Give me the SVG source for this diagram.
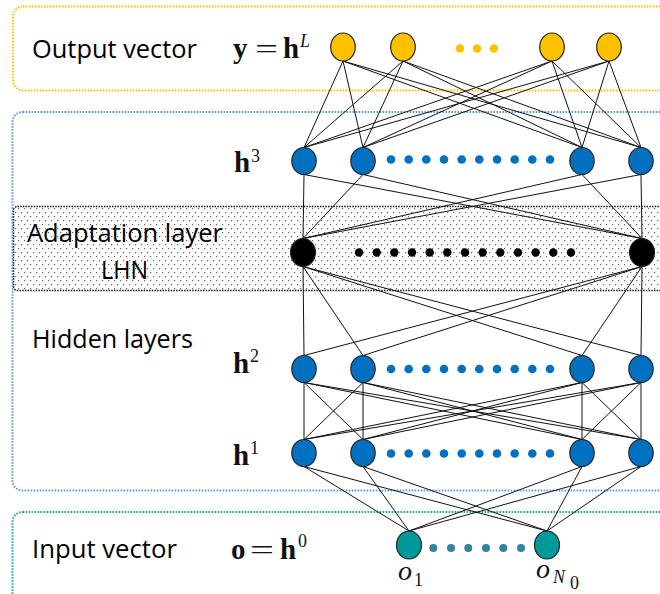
<svg xmlns="http://www.w3.org/2000/svg" width="660" height="594" viewBox="0 0 660 594">
<defs>
<pattern id="dots" width="6" height="8" patternUnits="userSpaceOnUse"><rect width="6" height="8" fill="#fff"/><rect x="0" y="0" width="1.2" height="1.2" fill="#666"/><rect x="3" y="4" width="1.2" height="1.2" fill="#666"/></pattern>
<style>
.box{fill:none;stroke-width:2;stroke-dasharray:1.6 1.4}
.lbl{font-family:"Open Sans","Liberation Sans",sans-serif;font-size:25px;fill:#000}
.mb{font-family:"Liberation Serif",serif;font-weight:bold;font-size:29px;fill:#111}
.mr{font-family:"Liberation Serif",serif;font-size:27px;fill:#111}
.mi{font-family:"Liberation Serif",serif;font-style:italic;font-size:28px;fill:#111}
.sup{font-family:"Liberation Serif",serif;font-size:18px;fill:#111}
.supi{font-family:"Liberation Serif",serif;font-style:italic;font-size:18px;fill:#111}
.node{stroke:#222;stroke-width:1.2}
.y{fill:#FFC000}.b{fill:#0070C0}.k{fill:#000}.t{fill:#009999}
.conn line{stroke:#111;stroke-width:1}
</style>
</defs>
<rect width="660" height="594" fill="#fff"/>
<g id="boxes">
<rect class="box" x="13" y="6.5" width="700" height="84" rx="10" stroke="#FFC000"/>
<rect class="box" x="12.5" y="112" width="700" height="378.5" rx="10" stroke="#5B9BD5"/>
<rect class="box" x="12.5" y="512" width="700" height="110" rx="10" stroke="#1FA3A3"/>
<rect x="13.5" y="206.5" width="700" height="84" rx="4" fill="url(#dots)" stroke="#111" stroke-width="1.5" stroke-dasharray="1.5 1.2"/>
</g>
<g id="labels">
<text class="lbl" x="32" y="58" textLength="165" lengthAdjust="spacingAndGlyphs">Output vector</text>
<text class="lbl" x="27" y="242" textLength="196" lengthAdjust="spacingAndGlyphs">Adaptation layer</text>
<text class="lbl" x="101" y="279" textLength="47" lengthAdjust="spacingAndGlyphs">LHN</text>
<text class="lbl" x="32" y="348" textLength="161" lengthAdjust="spacingAndGlyphs">Hidden layers</text>
<text class="lbl" x="32" y="558" textLength="145" lengthAdjust="spacingAndGlyphs">Input vector</text>
<text class="mb" x="233" y="58">y</text>
<text class="mr" x="255" y="58" textLength="23" lengthAdjust="spacingAndGlyphs">=</text>
<text class="mb" x="283" y="58">h</text>
<text class="supi" x="300" y="47">L</text>
<text class="mb" x="234" y="172">h</text>
<text class="sup" x="251" y="162">3</text>
<text class="mb" x="233" y="373">h</text>
<text class="sup" x="250" y="362">2</text>
<text class="mb" x="233" y="465">h</text>
<text class="sup" x="250" y="454">1</text>
<text class="mb" x="231" y="559">o</text>
<text class="mr" x="250" y="559" textLength="24" lengthAdjust="spacingAndGlyphs">=</text>
<text class="mb" x="280" y="559">h</text>
<text class="sup" x="298" y="547">0</text>
<text class="mi" x="398" y="580">o</text>
<text class="sup" x="414" y="586" font-size="19">1</text>
<text class="mi" x="536" y="578">o</text>
<text class="supi" x="553" y="583">N</text>
<text class="sup" x="570" y="589" font-size="14">0</text>
</g>
<g id="connectors" class="conn">
<line x1="343" y1="61" x2="304" y2="147.5"/><line x1="343" y1="61" x2="363" y2="147.5"/><line x1="343" y1="61" x2="582" y2="147.5"/><line x1="343" y1="61" x2="641" y2="147.5"/>
<line x1="403" y1="61" x2="304" y2="147.5"/><line x1="403" y1="61" x2="363" y2="147.5"/><line x1="403" y1="61" x2="582" y2="147.5"/><line x1="403" y1="61" x2="641" y2="147.5"/>
<line x1="552" y1="61" x2="304" y2="147.5"/><line x1="552" y1="61" x2="363" y2="147.5"/><line x1="552" y1="61" x2="582" y2="147.5"/><line x1="552" y1="61" x2="641" y2="147.5"/>
<line x1="609" y1="61" x2="304" y2="147.5"/><line x1="609" y1="61" x2="363" y2="147.5"/><line x1="609" y1="61" x2="582" y2="147.5"/><line x1="609" y1="61" x2="641" y2="147.5"/>
<line x1="304" y1="174.5" x2="303" y2="238.5"/><line x1="304" y1="174.5" x2="642" y2="238.5"/>
<line x1="363" y1="174.5" x2="303" y2="238.5"/><line x1="363" y1="174.5" x2="642" y2="238.5"/>
<line x1="582" y1="174.5" x2="303" y2="238.5"/><line x1="582" y1="174.5" x2="642" y2="238.5"/>
<line x1="641" y1="174.5" x2="303" y2="238.5"/><line x1="641" y1="174.5" x2="642" y2="238.5"/>
<line x1="303" y1="266.5" x2="304" y2="355.5"/><line x1="303" y1="266.5" x2="363" y2="355.5"/><line x1="303" y1="266.5" x2="582" y2="355.5"/><line x1="303" y1="266.5" x2="641" y2="355.5"/>
<line x1="642" y1="266.5" x2="304" y2="355.5"/><line x1="642" y1="266.5" x2="363" y2="355.5"/><line x1="642" y1="266.5" x2="582" y2="355.5"/><line x1="642" y1="266.5" x2="641" y2="355.5"/>
<line x1="304" y1="382.5" x2="304" y2="439.5"/><line x1="304" y1="382.5" x2="363" y2="439.5"/><line x1="304" y1="382.5" x2="582" y2="439.5"/><line x1="304" y1="382.5" x2="641" y2="439.5"/>
<line x1="363" y1="382.5" x2="304" y2="439.5"/><line x1="363" y1="382.5" x2="363" y2="439.5"/><line x1="363" y1="382.5" x2="582" y2="439.5"/><line x1="363" y1="382.5" x2="641" y2="439.5"/>
<line x1="582" y1="382.5" x2="304" y2="439.5"/><line x1="582" y1="382.5" x2="363" y2="439.5"/><line x1="582" y1="382.5" x2="582" y2="439.5"/><line x1="582" y1="382.5" x2="641" y2="439.5"/>
<line x1="641" y1="382.5" x2="304" y2="439.5"/><line x1="641" y1="382.5" x2="363" y2="439.5"/><line x1="641" y1="382.5" x2="582" y2="439.5"/><line x1="641" y1="382.5" x2="641" y2="439.5"/>
<line x1="304" y1="466.5" x2="409" y2="531"/><line x1="304" y1="466.5" x2="547" y2="531"/>
<line x1="363" y1="466.5" x2="409" y2="531"/><line x1="363" y1="466.5" x2="547" y2="531"/>
<line x1="582" y1="466.5" x2="409" y2="531"/><line x1="582" y1="466.5" x2="547" y2="531"/>
<line x1="641" y1="466.5" x2="409" y2="531"/><line x1="641" y1="466.5" x2="547" y2="531"/>
</g>
<g id="output-layer">
<ellipse class="node y" cx="343" cy="47" rx="12.3" ry="14"/>
<ellipse class="node y" cx="403" cy="47" rx="12.3" ry="14"/>
<ellipse class="node y" cx="552" cy="47" rx="12.3" ry="14"/>
<ellipse class="node y" cx="609" cy="47" rx="12.3" ry="14"/>
<g fill="#FFC000"><circle cx="460" cy="48.5" r="4.2"/><circle cx="477" cy="48.5" r="4.2"/><circle cx="494" cy="48.5" r="4.2"/></g>
</g>
<g id="h3-layer">
<ellipse class="node b" cx="304" cy="161" rx="12.2" ry="13.5"/>
<ellipse class="node b" cx="363" cy="161" rx="12.2" ry="13.5"/>
<ellipse class="node b" cx="582" cy="161" rx="12.2" ry="13.5"/>
<ellipse class="node b" cx="641" cy="161" rx="12.2" ry="13.5"/>
<g fill="#0070C0"><circle cx="391" cy="159.5" r="4.3"/><circle cx="408.7" cy="159.5" r="4.3"/><circle cx="426.3" cy="159.5" r="4.3"/><circle cx="444" cy="159.5" r="4.3"/><circle cx="461.7" cy="159.5" r="4.3"/><circle cx="479.3" cy="159.5" r="4.3"/><circle cx="497" cy="159.5" r="4.3"/><circle cx="514.7" cy="159.5" r="4.3"/><circle cx="532.3" cy="159.5" r="4.3"/><circle cx="550" cy="159.5" r="4.3"/></g>
</g>
<g id="adaptation-layer">
<ellipse class="node k" cx="303" cy="252.5" rx="12.5" ry="14"/>
<ellipse class="node k" cx="642" cy="252.5" rx="12.5" ry="14"/>
<g fill="#000"><circle cx="359" cy="252.5" r="4.2"/><circle cx="376.7" cy="252.5" r="4.2"/><circle cx="394.3" cy="252.5" r="4.2"/><circle cx="412" cy="252.5" r="4.2"/><circle cx="429.7" cy="252.5" r="4.2"/><circle cx="447.3" cy="252.5" r="4.2"/><circle cx="465" cy="252.5" r="4.2"/><circle cx="482.7" cy="252.5" r="4.2"/><circle cx="500.3" cy="252.5" r="4.2"/><circle cx="518" cy="252.5" r="4.2"/><circle cx="535.7" cy="252.5" r="4.2"/><circle cx="553.3" cy="252.5" r="4.2"/><circle cx="571" cy="252.5" r="4.2"/></g>
</g>
<g id="h2-layer">
<ellipse class="node b" cx="304" cy="369" rx="12.2" ry="13.5"/>
<ellipse class="node b" cx="363" cy="369" rx="12.2" ry="13.5"/>
<ellipse class="node b" cx="582" cy="369" rx="12.2" ry="13.5"/>
<ellipse class="node b" cx="641" cy="369" rx="12.2" ry="13.5"/>
<g fill="#0070C0"><circle cx="391" cy="369" r="4.3"/><circle cx="408.7" cy="369" r="4.3"/><circle cx="426.3" cy="369" r="4.3"/><circle cx="444" cy="369" r="4.3"/><circle cx="461.7" cy="369" r="4.3"/><circle cx="479.3" cy="369" r="4.3"/><circle cx="497" cy="369" r="4.3"/><circle cx="514.7" cy="369" r="4.3"/><circle cx="532.3" cy="369" r="4.3"/><circle cx="550" cy="369" r="4.3"/></g>
</g>
<g id="h1-layer">
<ellipse class="node b" cx="304" cy="453" rx="12.2" ry="13.5"/>
<ellipse class="node b" cx="363" cy="453" rx="12.2" ry="13.5"/>
<ellipse class="node b" cx="582" cy="453" rx="12.2" ry="13.5"/>
<ellipse class="node b" cx="641" cy="453" rx="12.2" ry="13.5"/>
<g fill="#0070C0"><circle cx="391" cy="453.5" r="4.3"/><circle cx="408.7" cy="453.5" r="4.3"/><circle cx="426.3" cy="453.5" r="4.3"/><circle cx="444" cy="453.5" r="4.3"/><circle cx="461.7" cy="453.5" r="4.3"/><circle cx="479.3" cy="453.5" r="4.3"/><circle cx="497" cy="453.5" r="4.3"/><circle cx="514.7" cy="453.5" r="4.3"/><circle cx="532.3" cy="453.5" r="4.3"/><circle cx="550" cy="453.5" r="4.3"/></g>
</g>
<g id="input-layer">
<ellipse class="node t" cx="409" cy="545" rx="12.5" ry="14"/>
<ellipse class="node t" cx="547" cy="545" rx="12.5" ry="14"/>
<g fill="#31849B"><circle cx="433.3" cy="548" r="4"/><circle cx="451" cy="548" r="4"/><circle cx="468.3" cy="548" r="4"/><circle cx="486" cy="548" r="4"/><circle cx="503.3" cy="548" r="4"/><circle cx="521" cy="548" r="4"/></g>
</g>
</svg>
